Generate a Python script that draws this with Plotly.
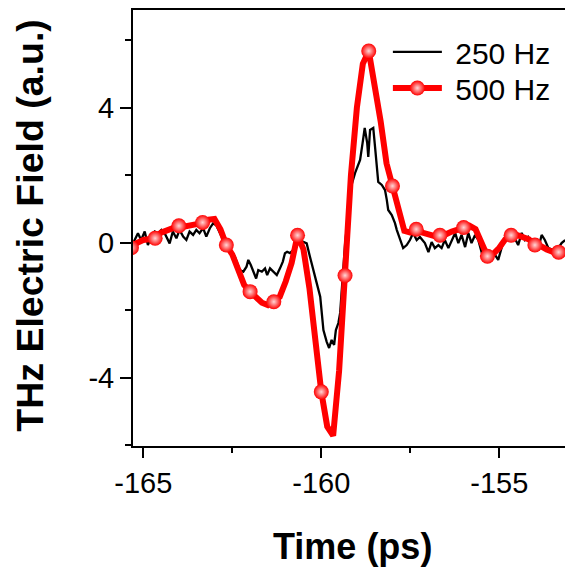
import plotly.graph_objects as go

# ---- data ----
black_t = [-165.29, -165.15, -165.06, -164.96, -164.87, -164.78, -164.68, -164.59, -164.49, -164.40,
           -164.26, -164.17, -164.07, -163.98, -163.88, -163.79, -163.70, -163.60, -163.51, -163.42,
           -163.32, -163.23, -163.13, -163.04, -162.95, -162.85, -162.71, -162.57, -162.43, -162.29,
           -162.19, -162.10, -162.05, -161.98, -161.91, -161.83, -161.77, -161.67, -161.58, -161.52,
           -161.44, -161.35, -161.25, -161.16, -161.08, -161.02, -160.96, -160.88, -160.79, -160.69,
           -160.60, -160.51, -160.41, -160.32, -160.27, -160.22, -160.13, -160.03, -159.99, -159.94,
           -159.85, -159.78, -159.71, -159.64, -159.59, -159.52, -159.47, -159.43, -159.38, -159.33,
           -159.24, -159.15, -159.05, -158.96, -158.91, -158.84, -158.78, -158.71, -158.68, -158.63,
           -158.54, -158.49, -158.44, -158.40, -158.30, -158.21, -158.16, -158.12, -158.02, -157.93,
           -157.88, -157.79, -157.70, -157.60, -157.51, -157.42, -157.32, -157.23, -157.09, -156.99,
           -156.90, -156.81, -156.71, -156.62, -156.53, -156.43, -156.34, -156.24, -156.15, -156.06,
           -155.96, -155.87, -155.78, -155.68, -155.59, -155.49, -155.35, -155.21, -155.12, -155.03,
           -154.93, -154.79, -154.70, -154.61, -154.47, -154.37, -154.28, -154.19, -154.04, -153.90,
           -153.81, -153.72, -153.62, -153.48, -153.34, -153.25, -153.15]
black_y = [-0.02, 0.28, 0.08, 0.33, -0.07, 0.18, 0.33, 0.28, 0.38, 0.28,
           -0.02, 0.33, 0.13, 0.38, 0.18, 0.08, 0.33, 0.23, 0.38, 0.28,
           0.43, 0.18, 0.43, 0.57, 0.52, 0.28, -0.02, -0.22, -0.41, -0.81,
           -0.86, -0.71, -0.51, -0.66, -0.86, -1.06, -0.81, -0.86, -0.76, -0.96,
           -0.76, -0.86, -0.96, -0.76, -0.56, -0.31, -0.27, -0.31, -0.22, -0.02,
           -0.02, 0.03, -0.02, -0.41, -0.61, -0.75, -1.19, -1.60, -2.08, -2.59,
           -2.93, -3.12, -2.88, -3.03, -2.59, -2.38, -2.08, -1.40, -0.60, -0.01,
           0.88, 1.71, 2.07, 2.36, 2.45, 2.95, 3.40, 2.95, 2.54, 3.34,
           3.40, 2.84, 2.36, 1.80, 1.71, 1.56, 1.27, 0.97, 0.82, 0.58,
           0.38, 0.08, -0.16, -0.07, 0.08, 0.29, 0.08, 0.17, -0.01, -0.28,
           0.02, -0.16, -0.07, -0.16, 0.08, -0.16, 0.08, 0.29, -0.01, 0.23,
           -0.13, 0.29, -0.01, 0.23, 0.08, -0.31, -0.36, -0.28, -0.36, -0.51,
           -0.13, 0.29, 0.08, 0.23, -0.07, 0.29, 0.08, 0.17, -0.16, -0.16,
           0.23, 0.08, -0.16, -0.22, -0.16, -0.01, 0.08]

red_t = [-165.333, -165.167, -165.000, -164.833, -164.667, -164.500, -164.333, -164.167, -164.000, -163.833,
         -163.667, -163.500, -163.333, -163.167, -163.000, -162.833, -162.667, -162.500, -162.333, -162.167,
         -162.000, -161.833, -161.667, -161.500, -161.333, -161.167, -161.000, -160.833, -160.667, -160.500,
         -160.333, -160.167, -160.000, -159.833, -159.667, -159.500, -159.333, -159.167, -159.000, -158.833,
         -158.667, -158.500, -158.333, -158.167, -158.000, -157.833, -157.667, -157.500, -157.333, -157.167,
         -157.000, -156.833, -156.667, -156.500, -156.333, -156.167, -156.000, -155.833, -155.667, -155.500,
         -155.333, -155.167, -155.000, -154.833, -154.667, -154.500, -154.333, -154.167, -154.000, -153.833,
         -153.667, -153.500, -153.333, -153.167]
red_y = [-0.15, 0.00, 0.08, 0.10, 0.13, 0.30, 0.38, 0.45, 0.50, 0.48,
         0.50, 0.55, 0.60, 0.68, 0.70, 0.40, -0.07, -0.35, -0.80, -1.25,
         -1.45, -1.60, -1.78, -1.85, -1.75, -1.60, -1.15, -0.60, 0.22, -0.20,
         -1.35, -3.00, -4.42, -5.45, -5.72, -3.80, -0.97, 2.00, 4.00, 5.30,
         5.68, 4.75, 3.60, 2.35, 1.68, 0.85, 0.35, 0.30, 0.40, 0.30,
         0.23, 0.20, 0.22, 0.25, 0.33, 0.40, 0.45, 0.50, 0.40, 0.00,
         -0.40, -0.33, -0.15, 0.10, 0.22, 0.23, 0.18, 0.10, -0.07, -0.10,
         -0.20, -0.27, -0.28, -0.22]
marker_every = 4

x_tickvals = [-165, -160, -155]
x_ticktext = ["-165", "-160", "-155"]
x_minor = [-162.5, -157.5]
y_tickvals = [-4, 0, 4]
y_ticktext = ["-4", "0", "4"]
y_minor = [-6, -2, 2, 6]

series_names = ["250 Hz", "500 Hz"]
x_title = "Time (ps)"
y_title = "THz Electric Field (a.u.)"

FONT = "Liberation Sans, Arial, sans-serif"
RED = "#ff0000"
NB = "\u00a0"

fig = go.Figure()
fig.add_trace(go.Scatter(x=black_t, y=black_y, mode="lines", name=NB + series_names[0],
                         legend="legend", line=dict(color="black", width=2.3)))
fig.add_trace(go.Scatter(x=red_t, y=red_y, mode="lines", name=series_names[1], showlegend=False,
                         line=dict(color=RED, width=6)))
marker_style = dict(color=RED, size=15, line=dict(width=0),
                    gradient=dict(type="radial", color="#ffd6d6"))
fig.add_trace(go.Scatter(x=red_t[::marker_every], y=red_y[::marker_every], mode="markers",
                         showlegend=False, marker=marker_style))
fig.add_trace(go.Scatter(x=[None], y=[None], mode="lines+markers", name=NB + series_names[1],
                         legend="legend2", line=dict(color=RED, width=6), marker=marker_style))

leg_common = dict(xanchor="left", yanchor="middle", bgcolor="rgba(0,0,0,0)",
                  borderwidth=0, font=dict(size=30), itemwidth=49)

fig.update_layout(
    width=565, height=568,
    margin=dict(l=133, r=0, t=10, b=122),
    paper_bgcolor="white", plot_bgcolor="white",
    font=dict(family=FONT, color="black", size=29),
    showlegend=True,
    legend=dict(x=0.590, y=0.904, **leg_common),
    legend2=dict(x=0.590, y=0.821, **leg_common),
    xaxis=dict(range=[-165.289, -153.154], showgrid=False, zeroline=False,
               showline=True, linecolor="black", linewidth=2, mirror=True,
               ticks="outside", ticklen=10, tickwidth=2, tickcolor="black",
               tickmode="array", tickvals=x_tickvals, ticktext=x_ticktext,
               tickfont=dict(size=29),
               minor=dict(tickmode="array", tickvals=x_minor, ticks="outside", ticklen=5,
                          tickwidth=2, tickcolor="black")),
    yaxis=dict(range=[-6.024, 6.895], showgrid=False, zeroline=False,
               showline=True, linecolor="black", linewidth=2, mirror=False,
               ticks="outside", ticklen=11, tickwidth=2, tickcolor="black",
               tickmode="array", tickvals=y_tickvals, ticktext=y_ticktext,
               tickfont=dict(size=29),
               minor=dict(tickmode="array", tickvals=y_minor, ticks="outside", ticklen=6,
                          tickwidth=2, tickcolor="black")),
    annotations=[
        dict(text="<b>" + x_title + "</b>", xref="paper", yref="paper", x=0.507, y=-0.231,
             xanchor="center", yanchor="middle", showarrow=False, font=dict(size=36)),
        dict(text="<b>" + y_title + "</b>", xref="paper", yref="paper", x=-0.2376, y=0.506,
             xanchor="center", yanchor="middle", textangle=-90, showarrow=False,
             font=dict(size=37.5)),
    ],
)

fig.write_html("out.html")
